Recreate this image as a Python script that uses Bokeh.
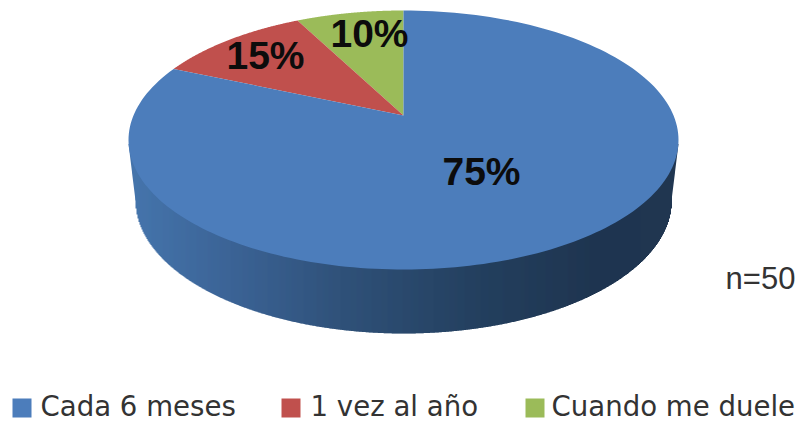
import numpy as np
from bokeh.plotting import figure
from bokeh.models import Range1d
from bokeh.core.properties import value
from bokeh.embed import file_html
from bokeh.resources import INLINE

categories = ["Cada 6 meses", "1 vez al año", "Cuando me duele"]
values = [75, 15, 10]
labels = ["75%", "15%", "10%"]
note = "n=50"
colors = ["#4C7DBB", "#C0504D", "#9BBB59"]

W, H = 801, 422
p = figure(width=W, height=H, x_range=Range1d(0, W), y_range=Range1d(H, 0),
           output_backend="svg", toolbar_location=None, min_border=0, outline_line_color=None)
p.axis.visible = False
p.grid.visible = False

# geometry of the tilted pie, in reference pixels
CX, CY, RX, RY = 403, 139.5, 275, 129.5
AX, AY = 403, 115
BX_R, BY, BY_R = 268, 200, 133
SQUEEZE = 0.63  # perspective foreshortens the far side of the pie


def drawn_angle(share):
    """Counter-clockwise share of the pie from 12 o'clock -> drawn ellipse angle."""
    knee = 0.25
    if share <= knee:
        return share * 360 * SQUEEZE
    k = knee * 360 * SQUEEZE
    return k + (share - knee) / (1 - knee) * (360 - k)


# side wall with horizontal gradient
stops_x = [128, 230, 340, 480, 600, 680]
stops_c = [(70, 118, 173), (60, 100, 150), (48, 82, 122), (36, 64, 95), (31, 53, 80), (33, 55, 82)]


def wall_color(x):
    return "#%02x%02x%02x" % tuple(int(np.interp(x, stops_x, [c[i] for c in stops_c])) for i in range(3))


# outer flanks joining the top surface to the smaller lower rim
for sgn in (-1, 1):
    fx = [CX + sgn * RX, CX + sgn * BX_R, CX + sgn * (BX_R - 30), CX + sgn * (BX_R - 30)]
    fy = [CY + 4, BY, BY, CY + 4]
    p.patch(fx, fy, fill_color=wall_color(CX + sgn * BX_R), line_color=None)

edge = np.arange(BX_R * -1, BX_R + 0.01, 1.0)
for e in edge[:-1]:
    x0, x1 = CX + e, CX + e + 1.5
    xm = CX + e + 0.5
    u = min(abs(xm - CX) / RX, 1)
    ub = min(abs(xm - CX) / BX_R, 1)
    ytop = CY + RY * np.sqrt(1 - u * u) - 2
    ybot = BY + BY_R * np.sqrt(1 - ub * ub)
    p.quad(left=x0, right=x1, top=ytop, bottom=ybot, fill_color=wall_color(xm), line_color=None)

# top surface: walk counter-clockwise from 12 o'clock
order = [2, 1, 0]
total = sum(values)
cum = 0
for i in order:
    a0 = drawn_angle(cum / total)
    cum += values[i]
    a1 = drawn_angle(cum / total)
    t = np.radians(np.linspace(a0, a1, 200))
    px = np.r_[AX, CX - RX * np.sin(t)]
    py = np.r_[AY, CY - RY * np.cos(t)]
    p.patch(px, py, fill_color=colors[i], line_color=None)

# data labels
label_x = [481, 265, 369]
label_y = [171, 55, 33]
p.text(label_x, label_y, text=labels, text_font=value("Liberation Sans"), text_font_style="bold",
       text_font_size="39px", text_align="center", text_baseline="middle", text_color="#0c0c0c")

p.text([760], [278], text=[note], text_font=value("Liberation Sans"), text_font_size="31px",
       text_align="center", text_baseline="middle", text_color="#333333")

# legend
swatch_left = [12, 281, 525]
text_left = [40, 310, 551]
p.quad(left=swatch_left, right=[s + 19 for s in swatch_left], top=[398] * 3, bottom=[417] * 3,
       fill_color=colors, line_color=None)
p.text(text_left, [406] * 3, text=categories, text_font=value("DejaVu Sans"), text_font_size="27.6px",
       text_align="left", text_baseline="middle", text_color="#333333")

open("out.html", "w").write(file_html(p, INLINE))
